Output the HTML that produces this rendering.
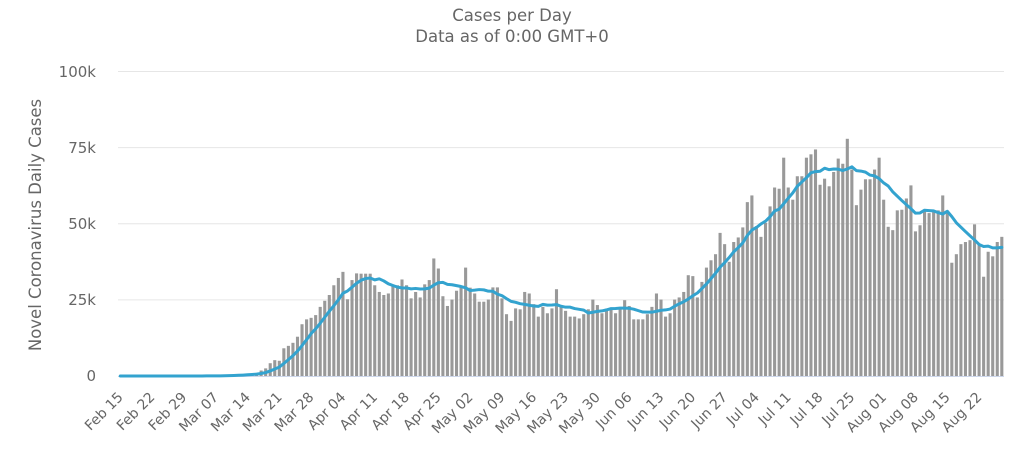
<!DOCTYPE html>
<html><head><meta charset="utf-8"><style>
html,body{margin:0;padding:0;background:#fff;}
svg{display:block;font-family:"DejaVu Sans","Liberation Sans",sans-serif;}
</style></head><body>
<svg width="1024" height="467" viewBox="0 0 1024 467" xmlns="http://www.w3.org/2000/svg">
<rect width="1024" height="467" fill="#fff"/>
<text x="512" y="21" text-anchor="middle" font-size="16.5" fill="#666">Cases per Day</text>
<text x="512" y="42" text-anchor="middle" font-size="16.5" fill="#666">Data as of 0:00 GMT+0</text>
<g stroke="#e6e6e6" stroke-width="1">
<line x1="118" x2="1004" y1="71.5" y2="71.5"/>
<line x1="118" x2="1004" y1="147.6" y2="147.6"/>
<line x1="118" x2="1004" y1="223.75" y2="223.75"/>
<line x1="118" x2="1004" y1="299.9" y2="299.9"/>
</g>
<line x1="118" x2="1004" y1="376.5" y2="376.5" stroke="#ccd6eb" stroke-width="1"/>
<g font-size="15" fill="#666" text-anchor="end">
<text x="96" y="77">100k</text>
<text x="96" y="153">75k</text>
<text x="96" y="229">50k</text>
<text x="96" y="305">25k</text>
<text x="96" y="381">0</text>
</g>
<text x="41" y="225" transform="rotate(-90 41 225)" text-anchor="middle" font-size="16.5" fill="#666">Novel Coronavirus Daily Cases</text>
<g transform="translate(118,376) scale(4.544,-3.045)" fill="#999">
<rect x="21.16" width=".68" height="0.1"/><rect x="22.16" width=".68" height="0.1"/><rect x="23.16" width=".68" height="0.15"/><rect x="24.16" width=".68" height="0.3"/><rect x="25.16" width=".68" height="0.4"/><rect x="26.16" width=".68" height="0.5"/><rect x="27.16" width=".68" height="0.6"/><rect x="28.16" width=".68" height="0.7"/><rect x="29.16" width=".68" height="0.8"/><rect x="30.16" width=".68" height="1.0"/><rect x="31.16" width=".68" height="1.8"/>
<rect x="32.16" width=".68" height="2.5"/><rect x="33.16" width=".68" height="4.2"/><rect x="34.16" width=".68" height="5.2"/><rect x="35.16" width=".68" height="5.0"/><rect x="36.16" width=".68" height="9.1"/><rect x="37.16" width=".68" height="9.9"/><rect x="38.16" width=".68" height="10.9"/><rect x="39.16" width=".68" height="12.9"/><rect x="40.16" width=".68" height="17.0"/><rect x="41.16" width=".68" height="18.6"/>
<rect x="42.16" width=".68" height="19.1"/><rect x="43.16" width=".68" height="20.0"/><rect x="44.16" width=".68" height="22.7"/><rect x="45.16" width=".68" height="24.7"/><rect x="46.16" width=".68" height="26.6"/><rect x="47.16" width=".68" height="29.8"/><rect x="48.16" width=".68" height="32.2"/><rect x="49.16" width=".68" height="34.2"/><rect x="50.16" width=".68" height="25.2"/><rect x="51.16" width=".68" height="31.5"/>
<rect x="52.16" width=".68" height="33.7"/><rect x="53.16" width=".68" height="33.6"/><rect x="54.16" width=".68" height="33.6"/><rect x="55.16" width=".68" height="33.6"/><rect x="56.16" width=".68" height="29.8"/><rect x="57.16" width=".68" height="27.6"/><rect x="58.16" width=".68" height="26.6"/><rect x="59.16" width=".68" height="27.1"/><rect x="60.16" width=".68" height="29.8"/><rect x="61.16" width=".68" height="29.8"/>
<rect x="62.16" width=".68" height="31.7"/><rect x="63.16" width=".68" height="29.8"/><rect x="64.16" width=".68" height="25.5"/><rect x="65.16" width=".68" height="27.6"/><rect x="66.16" width=".68" height="25.8"/><rect x="67.16" width=".68" height="30.1"/><rect x="68.16" width=".68" height="31.5"/><rect x="69.16" width=".68" height="38.6"/><rect x="70.16" width=".68" height="35.3"/><rect x="71.16" width=".68" height="26.2"/>
<rect x="72.16" width=".68" height="23.0"/><rect x="73.16" width=".68" height="25.1"/><rect x="74.16" width=".68" height="28.0"/><rect x="75.16" width=".68" height="29.5"/><rect x="76.16" width=".68" height="35.6"/><rect x="77.16" width=".68" height="29.0"/><rect x="78.16" width=".68" height="27.1"/><rect x="79.16" width=".68" height="24.4"/><rect x="80.16" width=".68" height="24.4"/><rect x="81.16" width=".68" height="25.1"/>
<rect x="82.16" width=".68" height="29.1"/><rect x="83.16" width=".68" height="29.1"/><rect x="84.16" width=".68" height="25.5"/><rect x="85.16" width=".68" height="20.3"/><rect x="86.16" width=".68" height="18.1"/><rect x="87.16" width=".68" height="22.2"/><rect x="88.16" width=".68" height="21.9"/><rect x="89.16" width=".68" height="27.6"/><rect x="90.16" width=".68" height="27.1"/><rect x="91.16" width=".68" height="23.6"/>
<rect x="92.16" width=".68" height="19.5"/><rect x="93.16" width=".68" height="22.7"/><rect x="94.16" width=".68" height="20.6"/><rect x="95.16" width=".68" height="22.2"/><rect x="96.16" width=".68" height="28.5"/><rect x="97.16" width=".68" height="23.3"/><rect x="98.16" width=".68" height="21.4"/><rect x="99.16" width=".68" height="19.5"/><rect x="100.16" width=".68" height="19.5"/><rect x="101.16" width=".68" height="18.9"/>
<rect x="102.16" width=".68" height="20.3"/><rect x="103.16" width=".68" height="21.9"/><rect x="104.16" width=".68" height="25.1"/><rect x="105.16" width=".68" height="23.3"/><rect x="106.16" width=".68" height="20.6"/><rect x="107.16" width=".68" height="21.9"/><rect x="108.16" width=".68" height="21.9"/><rect x="109.16" width=".68" height="20.6"/><rect x="110.16" width=".68" height="22.7"/><rect x="111.16" width=".68" height="24.9"/>
<rect x="112.16" width=".68" height="23.0"/><rect x="113.16" width=".68" height="18.6"/><rect x="114.16" width=".68" height="18.6"/><rect x="115.16" width=".68" height="18.6"/><rect x="116.16" width=".68" height="20.3"/><rect x="117.16" width=".68" height="22.7"/><rect x="118.16" width=".68" height="27.1"/><rect x="119.16" width=".68" height="25.1"/><rect x="120.16" width=".68" height="19.5"/><rect x="121.16" width=".68" height="20.6"/>
<rect x="122.16" width=".68" height="25.1"/><rect x="123.16" width=".68" height="25.8"/><rect x="124.16" width=".68" height="27.6"/><rect x="125.16" width=".68" height="33.1"/><rect x="126.16" width=".68" height="32.8"/><rect x="127.16" width=".68" height="25.8"/><rect x="128.16" width=".68" height="30.9"/><rect x="129.16" width=".68" height="35.6"/><rect x="130.16" width=".68" height="38.0"/><rect x="131.16" width=".68" height="40.0"/>
<rect x="132.16" width=".68" height="47.0"/><rect x="133.16" width=".68" height="43.3"/><rect x="134.16" width=".68" height="37.5"/><rect x="135.16" width=".68" height="44.0"/><rect x="136.16" width=".68" height="45.5"/><rect x="137.16" width=".68" height="48.8"/><rect x="138.16" width=".68" height="57.1"/><rect x="139.16" width=".68" height="59.3"/><rect x="140.16" width=".68" height="49.2"/><rect x="141.16" width=".68" height="45.7"/>
<rect x="142.16" width=".68" height="50.3"/><rect x="143.16" width=".68" height="55.7"/><rect x="144.16" width=".68" height="61.9"/><rect x="145.16" width=".68" height="61.5"/><rect x="146.16" width=".68" height="71.7"/><rect x="147.16" width=".68" height="61.9"/><rect x="148.16" width=".68" height="57.9"/><rect x="149.16" width=".68" height="65.6"/><rect x="150.16" width=".68" height="65.6"/><rect x="151.16" width=".68" height="71.7"/>
<rect x="152.16" width=".68" height="72.8"/><rect x="153.16" width=".68" height="74.4"/><rect x="154.16" width=".68" height="62.8"/><rect x="155.16" width=".68" height="64.8"/><rect x="156.16" width=".68" height="62.3"/><rect x="157.16" width=".68" height="67.0"/><rect x="158.16" width=".68" height="71.4"/><rect x="159.16" width=".68" height="69.7"/><rect x="160.16" width=".68" height="77.9"/><rect x="161.16" width=".68" height="67.8"/>
<rect x="162.16" width=".68" height="56.1"/><rect x="163.16" width=".68" height="61.2"/><rect x="164.16" width=".68" height="64.6"/><rect x="165.16" width=".68" height="64.6"/><rect x="166.16" width=".68" height="67.8"/><rect x="167.16" width=".68" height="71.7"/><rect x="168.16" width=".68" height="57.9"/><rect x="169.16" width=".68" height="49.0"/><rect x="170.16" width=".68" height="47.9"/><rect x="171.16" width=".68" height="54.4"/>
<rect x="172.16" width=".68" height="54.6"/><rect x="173.16" width=".68" height="58.3"/><rect x="174.16" width=".68" height="62.6"/><rect x="175.16" width=".68" height="47.5"/><rect x="176.16" width=".68" height="49.5"/><rect x="177.16" width=".68" height="54.2"/><rect x="178.16" width=".68" height="53.5"/><rect x="179.16" width=".68" height="53.9"/><rect x="180.16" width=".68" height="54.4"/><rect x="181.16" width=".68" height="59.3"/>
<rect x="182.16" width=".68" height="53.9"/><rect x="183.16" width=".68" height="37.2"/><rect x="184.16" width=".68" height="40.0"/><rect x="185.16" width=".68" height="43.3"/><rect x="186.16" width=".68" height="44.0"/><rect x="187.16" width=".68" height="44.6"/><rect x="188.16" width=".68" height="49.8"/><rect x="189.16" width=".68" height="43.5"/><rect x="190.16" width=".68" height="32.6"/><rect x="191.16" width=".68" height="40.8"/>
<rect x="192.16" width=".68" height="39.3"/><rect x="193.16" width=".68" height="44.0"/><rect x="194.16" width=".68" height="45.7"/>
<polyline fill="none" stroke="#33a3cf" stroke-width="3" stroke-linejoin="round" stroke-linecap="round" vector-effect="non-scaling-stroke" points="0.5,0 14.5,0 15.5,0.003 16.5,0.006 17.5,0.01 18.5,0.016 19.5,0.023 20.5,0.031 21.5,0.046 22.5,0.057 23.5,0.076 24.5,0.114 25.5,0.166 26.5,0.23 27.5,0.307 28.5,0.393 29.5,0.493 30.5,0.614 31.5,0.829 32.5,1.129 33.5,1.657 34.5,2.314 35.5,2.929 36.5,4.114 37.5,5.386 38.5,6.686 39.5,8.171 40.5,10.0 41.5,11.914 42.5,13.929 43.5,15.486 44.5,17.314 45.5,19.286 46.5,21.243 47.5,23.071 48.5,25.014 49.5,27.171 50.5,27.914 51.5,29.171 52.5,30.457 53.5,31.457 54.5,32.0 55.5,32.2 56.5,31.571 57.5,31.914 58.5,31.214 59.5,30.271 60.5,29.729 61.5,29.186 62.5,28.914 63.5,28.914 64.5,28.614 65.5,28.757 66.5,28.571 67.5,28.614 68.5,28.857 69.5,29.843 70.5,30.629 71.5,30.729 72.5,30.071 73.5,29.971 74.5,29.671 75.5,29.386 76.5,28.957 77.5,28.057 78.5,28.186 79.5,28.386 80.5,28.286 81.5,27.871 82.5,27.814 83.5,26.886 84.5,26.386 85.5,25.414 86.5,24.514 87.5,24.2 88.5,23.743 89.5,23.529 90.5,23.243 91.5,22.971 92.5,22.857 93.5,23.514 94.5,23.286 95.5,23.329 96.5,23.457 97.5,22.914 98.5,22.6 99.5,22.6 100.5,22.143 101.5,21.9 102.5,21.629 103.5,20.686 104.5,20.943 105.5,21.214 106.5,21.371 107.5,21.714 108.5,22.143 109.5,22.186 110.5,22.3 111.5,22.271 112.5,22.229 113.5,21.943 114.5,21.471 115.5,21.0 116.5,20.957 117.5,20.957 118.5,21.271 119.5,21.571 120.5,21.7 121.5,21.986 122.5,22.914 123.5,23.7 124.5,24.4 125.5,25.257 126.5,26.357 127.5,27.257 128.5,28.729 129.5,30.229 130.5,31.971 131.5,33.743 132.5,35.729 133.5,37.229 134.5,38.9 135.5,40.771 136.5,42.186 137.5,43.729 138.5,46.171 139.5,47.929 140.5,48.771 141.5,49.943 142.5,50.843 143.5,52.3 144.5,54.171 145.5,54.8 146.5,56.571 147.5,58.386 148.5,60.129 149.5,62.314 150.5,63.729 151.5,65.129 152.5,66.743 153.5,67.129 154.5,67.257 155.5,68.243 156.5,67.771 157.5,67.971 158.5,67.929 159.5,67.486 160.5,67.986 161.5,68.7 162.5,67.457 163.5,67.3 164.5,66.957 165.5,65.986 166.5,65.714 167.5,64.829 168.5,63.414 169.5,62.4 170.5,60.5 171.5,59.043 172.5,57.614 173.5,56.257 174.5,54.957 175.5,53.471 176.5,53.543 177.5,54.443 178.5,54.314 179.5,54.214 180.5,53.657 181.5,53.186 182.5,54.1 183.5,52.343 184.5,50.314 185.5,48.857 186.5,47.443 187.5,46.043 188.5,44.686 189.5,43.2 190.5,42.543 191.5,42.657 192.5,42.086 193.5,42.086 194.5,42.243"/>
</g>
<g font-size="14" fill="#666" text-anchor="end">
<text x="123.8" y="398" transform="rotate(-45 123.8 398)">Feb 15</text>
<text x="155.6" y="398" transform="rotate(-45 155.6 398)">Feb 22</text>
<text x="187.4" y="398" transform="rotate(-45 187.4 398)">Feb 29</text>
<text x="219.2" y="398" transform="rotate(-45 219.2 398)">Mar 07</text>
<text x="251.0" y="398" transform="rotate(-45 251.0 398)">Mar 14</text>
<text x="282.8" y="398" transform="rotate(-45 282.8 398)">Mar 21</text>
<text x="314.6" y="398" transform="rotate(-45 314.6 398)">Mar 28</text>
<text x="346.4" y="398" transform="rotate(-45 346.4 398)">Apr 04</text>
<text x="378.2" y="398" transform="rotate(-45 378.2 398)">Apr 11</text>
<text x="410.0" y="398" transform="rotate(-45 410.0 398)">Apr 18</text>
<text x="441.8" y="398" transform="rotate(-45 441.8 398)">Apr 25</text>
<text x="473.7" y="398" transform="rotate(-45 473.7 398)">May 02</text>
<text x="505.5" y="398" transform="rotate(-45 505.5 398)">May 09</text>
<text x="537.3" y="398" transform="rotate(-45 537.3 398)">May 16</text>
<text x="569.1" y="398" transform="rotate(-45 569.1 398)">May 23</text>
<text x="600.9" y="398" transform="rotate(-45 600.9 398)">May 30</text>
<text x="632.7" y="398" transform="rotate(-45 632.7 398)">Jun 06</text>
<text x="664.5" y="398" transform="rotate(-45 664.5 398)">Jun 13</text>
<text x="696.3" y="398" transform="rotate(-45 696.3 398)">Jun 20</text>
<text x="728.1" y="398" transform="rotate(-45 728.1 398)">Jun 27</text>
<text x="760.0" y="398" transform="rotate(-45 760.0 398)">Jul 04</text>
<text x="791.8" y="398" transform="rotate(-45 791.8 398)">Jul 11</text>
<text x="823.6" y="398" transform="rotate(-45 823.6 398)">Jul 18</text>
<text x="855.4" y="398" transform="rotate(-45 855.4 398)">Jul 25</text>
<text x="887.2" y="398" transform="rotate(-45 887.2 398)">Aug 01</text>
<text x="919.0" y="398" transform="rotate(-45 919.0 398)">Aug 08</text>
<text x="950.8" y="398" transform="rotate(-45 950.8 398)">Aug 15</text>
<text x="982.6" y="398" transform="rotate(-45 982.6 398)">Aug 22</text>
</g>
</svg>
</body></html>
